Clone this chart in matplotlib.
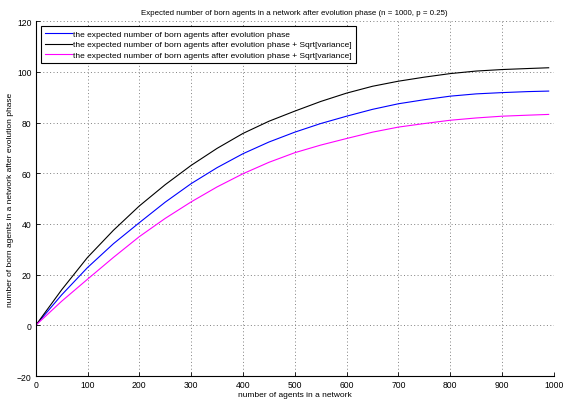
import matplotlib
matplotlib.use("Agg")
import matplotlib.pyplot as plt

plt.rcParams['font.family'] = ['Liberation Sans', 'DejaVu Sans']

agents = [0, 50, 100, 150, 200, 250, 300, 350, 400, 450, 500, 550, 600, 650, 700, 750, 800, 850, 900, 950, 990]
expected = [0, 12, 22.8, 32.2, 40.5, 48.6, 55.9, 62.2, 67.7, 72.3, 76.2, 79.6, 82.5, 85.2, 87.4, 89.0, 90.4, 91.3, 91.8, 92.2, 92.4]
expected_plus = [0, 14, 26.8, 37.5, 47.1, 55.5, 63.1, 69.8, 75.7, 80.5, 84.5, 88.3, 91.6, 94.3, 96.3, 97.9, 99.3, 100.3, 100.9, 101.3, 101.6]
expected_minus = [0, 9.5, 18.2, 26.8, 35.0, 42.2, 48.7, 54.6, 59.8, 64.3, 68.1, 71.1, 73.7, 76.2, 78.2, 79.6, 80.9, 81.8, 82.5, 82.9, 83.2]

labels = [
    "the expected number of born agents after evolution phase",
    "the expected number of born agents after evolution phase + Sqrt[variance]",
    "the expected number of born agents after evolution phase + Sqrt[variance]",
]
xticks = list(range(0, 1001, 100))
yticks = list(range(-20, 121, 20))

fig = plt.figure(figsize=(5.64, 4.02), dpi=100)
ax = fig.add_axes([0.0633, 0.062, 0.9187, 0.883])

ax.plot(agents, expected, color=(0, 0, 1), lw=0.8, label=labels[0])
ax.plot(agents, expected_plus, color='black', lw=0.8, label=labels[1])
ax.plot(agents, expected_minus, color=(1, 0, 1), lw=0.8, label=labels[2])

ax.set_xlim(0, 1000)
ax.set_ylim(-20, 120)
ax.set_xticks(xticks)
ax.set_yticks(yticks)
ax.grid(True, linestyle=(0, (1, 2.5)), color='0.5', linewidth=0.7)
ax.spines['top'].set_visible(False)
ax.spines['right'].set_visible(False)
for s in ['left', 'bottom']:
    ax.spines[s].set_linewidth(0.8)
ax.tick_params(direction='in', length=3, labelsize=6.2, width=0.6, pad=3)

ax.set_title("Expected number of born agents in a network after evolution phase (n = 1000, p = 0.25)",
             fontsize=5.7, pad=5)
ax.set_xlabel("number of agents in a network", fontsize=6.0, labelpad=1)
ax.set_ylabel("number of born agents in a network after evolution phase", fontsize=6.0, labelpad=2)

leg = ax.legend(loc='upper left', fontsize=6.0, frameon=True, fancybox=False, shadow=False,
                handlelength=3.2, handletextpad=0.2, borderpad=0.5, labelspacing=0.3,
                borderaxespad=0.6)
leg.get_frame().set_edgecolor('black')
leg.get_frame().set_linewidth(0.8)
leg.get_frame().set_alpha(1)

fig.savefig("out.png", dpi=100)
